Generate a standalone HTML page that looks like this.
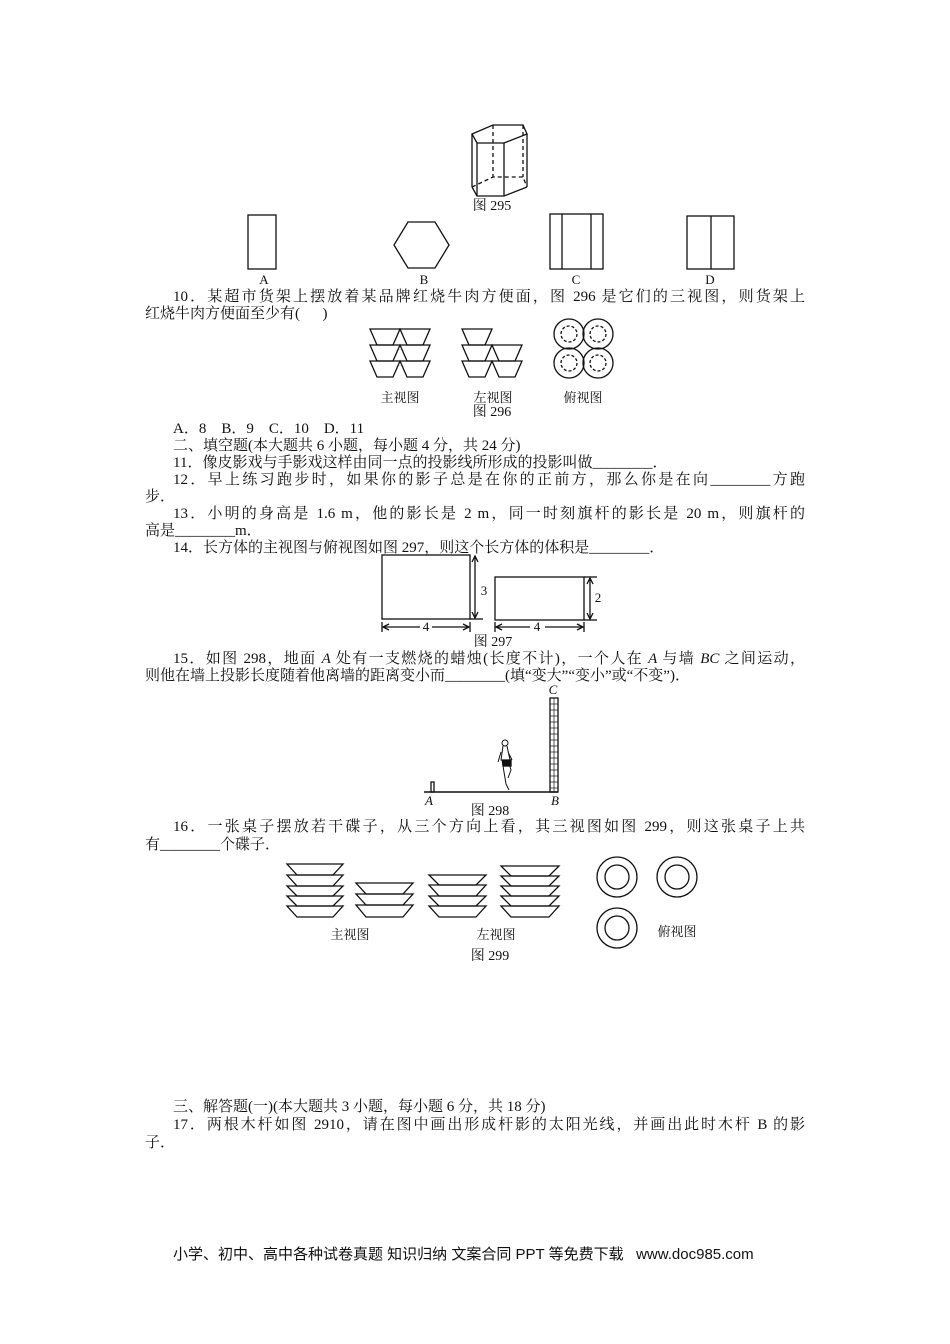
<!DOCTYPE html>
<html><head><meta charset="utf-8"><style>
body{margin:0;background:#fff;}
#p{position:relative;width:950px;height:1344px;overflow:hidden;font-family:"Liberation Serif","Noto Serif CJK SC",serif;font-size:15px;color:#111;}
.l{position:absolute;white-space:nowrap;line-height:17px;}
.j{text-align:justify;text-align-last:justify;white-space:normal;}
.c{position:absolute;white-space:nowrap;font-size:13px;transform:translateX(-50%);line-height:14px;}
svg{position:absolute;left:0;top:0;}
</style></head><body><div id="p">
<svg width="950" height="1344" fill="none" stroke="#111" stroke-width="1.3">
<polygon points="472,134 493,125 523,125 527,134 504,143 477,143"/>
<line x1="472" y1="134" x2="472" y2="187"/><line x1="477" y1="143" x2="477" y2="196"/><line x1="504" y1="143" x2="504" y2="196"/><line x1="527" y1="134" x2="527" y2="187"/>
<polyline points="472,187 477,196 504,196 527,187"/>
<g stroke-dasharray="4,3"><line x1="493" y1="125" x2="493" y2="177"/><line x1="523" y1="125" x2="523" y2="177"/><polyline points="472,187 493,177 523,177 527,187"/></g>
<rect x="248" y="215" width="28" height="54"/>
<polygon points="394,245 408,222 435,222 449,245 435,268 408,268"/>
<rect x="550" y="214" width="53" height="55"/><line x1="562" y1="214" x2="562" y2="269"/><line x1="591" y1="214" x2="591" y2="269"/>
<rect x="687" y="216" width="47" height="53"/><line x1="711" y1="216" x2="711" y2="269"/>
<polygon points="370,329 400,329 393,345 377,345"/><polygon points="400,329 430,329 423,345 407,345"/>
<polygon points="370,345 400,345 393,361 377,361"/><polygon points="400,345 430,345 423,361 407,361"/>
<polygon points="370,361 400,361 393,377 377,377"/><polygon points="400,361 430,361 423,377 407,377"/>
<polygon points="462,329 492,329 485,345 469,345"/>
<polygon points="462,345 492,345 485,361 469,361"/><polygon points="492,345 522,345 515,361 499,361"/>
<polygon points="462,361 492,361 485,377 469,377"/><polygon points="492,361 522,361 515,377 499,377"/>
<circle cx="569" cy="334" r="15"/><circle cx="598" cy="334" r="15"/><circle cx="569" cy="363" r="15"/><circle cx="598" cy="363" r="15"/>
<g stroke-dasharray="3,2"><circle cx="569" cy="334" r="8"/><circle cx="598" cy="334" r="8"/><circle cx="569" cy="363" r="8"/><circle cx="598" cy="363" r="8"/></g>
<rect x="382" y="555" width="88" height="64"/><line x1="470" y1="619" x2="483" y2="619"/>
<line x1="475" y1="556" x2="475" y2="618"/><polyline points="472,562 475,556 478,562"/><polyline points="472,612 475,618 478,612"/>
<line x1="382" y1="622" x2="382" y2="632"/><line x1="470" y1="622" x2="470" y2="632"/><line x1="383" y1="627" x2="420" y2="627"/><line x1="432" y1="627" x2="469" y2="627"/>
<polyline points="389,624 383,627 389,630"/><polyline points="463,624 469,627 463,630"/>
<rect x="495" y="577" width="89" height="43"/><line x1="584" y1="577" x2="597" y2="577"/><line x1="584" y1="620" x2="597" y2="620"/>
<line x1="590" y1="578" x2="590" y2="619"/><polyline points="587,584 590,578 593,584"/><polyline points="587,613 590,619 593,613"/>
<line x1="495" y1="622" x2="495" y2="632"/><line x1="584" y1="622" x2="584" y2="632"/><line x1="496" y1="627" x2="530" y2="627"/><line x1="545" y1="627" x2="583" y2="627"/>
<polyline points="502,624 496,627 502,630"/><polyline points="577,624 583,627 577,630"/>
<line x1="424" y1="792" x2="558" y2="792" stroke-width="1.6"/>
<rect x="550" y="698" width="8" height="94"/>
<g stroke-width="0.7"><line x1="550" y1="704" x2="558" y2="704"/><line x1="550" y1="710" x2="558" y2="710"/><line x1="550" y1="716" x2="558" y2="716"/><line x1="550" y1="722" x2="558" y2="722"/><line x1="550" y1="728" x2="558" y2="728"/><line x1="550" y1="734" x2="558" y2="734"/><line x1="550" y1="740" x2="558" y2="740"/><line x1="550" y1="746" x2="558" y2="746"/><line x1="550" y1="752" x2="558" y2="752"/><line x1="550" y1="758" x2="558" y2="758"/><line x1="550" y1="764" x2="558" y2="764"/><line x1="550" y1="770" x2="558" y2="770"/><line x1="550" y1="776" x2="558" y2="776"/><line x1="550" y1="782" x2="558" y2="782"/><line x1="550" y1="788" x2="558" y2="788"/><line x1="554" y1="698" x2="554" y2="792"/></g>
<rect x="431" y="782" width="3" height="10"/>
<g stroke-width="1"><circle cx="505" cy="743" r="3"/><path d="M503,746 L501,760 L510,760 L507,746 M501,752 L498,762 M508,752 L512,760 M502,760 L504,772 L506,784 L509,790 M508,760 L511,770 L508,778"/></g>
<rect x="503" y="760" width="8" height="6" fill="#111"/>
<!-- plates -->
<polygon points="287,864 343,864 333,875 297,875"/>
<polygon points="287,875 343,875 333,886 297,886"/>
<polygon points="287,886 343,886 333,896 297,896"/>
<polygon points="287,896 343,896 333,906 297,906"/>
<polygon points="287,906 343,906 333,917 297,917"/>
<polygon points="356,883 413,883 403,894 366,894"/>
<polygon points="356,894 413,894 403,905 366,905"/>
<polygon points="356,905 413,905 403,917 366,917"/>
<polygon points="429,875 486,875 476,885 439,885"/>
<polygon points="429,885 486,885 476,896 439,896"/>
<polygon points="429,896 486,896 476,906 439,906"/>
<polygon points="429,906 486,906 476,917 439,917"/>
<polygon points="501,866 559,866 549,876 511,876"/>
<polygon points="501,876 559,876 549,886 511,886"/>
<polygon points="501,886 559,886 549,896 511,896"/>
<polygon points="501,896 559,896 549,906 511,906"/>
<polygon points="501,906 559,906 549,917 511,917"/>
<circle cx="617" cy="877" r="20"/><circle cx="617" cy="877" r="12"/>
<circle cx="677" cy="877" r="20"/><circle cx="677" cy="877" r="12"/>
<circle cx="617" cy="928" r="20"/><circle cx="617" cy="928" r="12"/>
</svg>
<div class="c" style="left:492px;top:200px;font-size:14px">图 295</div>
<div class="c" style="left:264px;top:273px">A</div>
<div class="c" style="left:424px;top:273px">B</div>
<div class="c" style="left:576px;top:273px">C</div>
<div class="c" style="left:710px;top:273px">D</div>
<div class="l j" style="left:173px;top:289px;width:632px">10．某超市货架上摆放着某品牌红烧牛肉方便面，图 296 是它们的三视图，则货架上</div>
<div class="l" style="left:145px;top:306px">红烧牛肉方便面至少有(&nbsp;&nbsp;&nbsp;&nbsp;&nbsp;&nbsp;)</div>
<div class="c" style="left:400px;top:391px">主视图</div>
<div class="c" style="left:493px;top:391px">左视图</div>
<div class="c" style="left:583px;top:391px">俯视图</div>
<div class="c" style="left:492px;top:406px;font-size:14px">图 296</div>
<div class="l" style="left:173px;top:421px">A．8&nbsp;&nbsp;&nbsp;&nbsp;B．9&nbsp;&nbsp;&nbsp;&nbsp;C．10&nbsp;&nbsp;&nbsp;&nbsp;D．11</div>
<div class="l" style="left:173px;top:438px">二、填空题(本大题共 6 小题，每小题 4 分，共 24 分)</div>
<div class="l" style="left:173px;top:455px">11．像皮影戏与手影戏这样由同一点的投影线所形成的投影叫做________．</div>
<div class="l j" style="left:173px;top:472px;width:632px">12．早上练习跑步时，如果你的影子总是在你的正前方，那么你是在向________方跑</div>
<div class="l" style="left:145px;top:489px">步．</div>
<div class="l j" style="left:173px;top:506px;width:632px">13．小明的身高是 1.6 m，他的影长是 2 m，同一时刻旗杆的影长是 20 m，则旗杆的</div>
<div class="l" style="left:145px;top:523px">高是________m．</div>
<div class="l" style="left:173px;top:540px">14．长方体的主视图与俯视图如图 297，则这个长方体的体积是________．</div>
<div class="c" style="left:484px;top:584px">3</div>
<div class="c" style="left:598px;top:591px">2</div>
<div class="c" style="left:426px;top:620px">4</div>
<div class="c" style="left:537px;top:620px">4</div>
<div class="c" style="left:493px;top:636px;font-size:14px">图 297</div>
<div class="l j" style="left:173px;top:651px;width:632px">15．如图 298，地面 <i>A</i> 处有一支燃烧的蜡烛(长度不计)，一个人在 <i>A</i> 与墙 <i>BC</i> 之间运动，</div>
<div class="l" style="left:145px;top:668px">则他在墙上投影长度随着他离墙的距离变小而________(填“变大”“变小”或“不变”)．</div>
<div class="c" style="left:553px;top:683px;font-style:italic">C</div>
<div class="c" style="left:429px;top:794px;font-style:italic">A</div>
<div class="c" style="left:555px;top:794px;font-style:italic">B</div>
<div class="c" style="left:490px;top:805px;font-size:14px">图 298</div>
<div class="l j" style="left:173px;top:819px;width:632px">16．一张桌子摆放若干碟子，从三个方向上看，其三视图如图 299，则这张桌子上共</div>
<div class="l" style="left:145px;top:837px">有________个碟子．</div>
<div class="c" style="left:350px;top:928px">主视图</div>
<div class="c" style="left:496px;top:928px">左视图</div>
<div class="c" style="left:677px;top:925px">俯视图</div>
<div class="c" style="left:490px;top:950px;font-size:14px">图 299</div>
<div class="l" style="left:173px;top:1099px">三、解答题(一)(本大题共 3 小题，每小题 6 分，共 18 分)</div>
<div class="l j" style="left:173px;top:1117px;width:632px">17．两根木杆如图 2910，请在图中画出形成杆影的太阳光线，并画出此时木杆 B 的影</div>
<div class="l" style="left:145px;top:1135px">子．</div>
<div class="l" style="left:173px;top:1246px;font-family:'Liberation Sans','Noto Sans CJK SC',sans-serif;font-size:15px">小学、初中、高中各种试卷真题 知识归纳 文案合同 PPT 等免费下载&nbsp;&nbsp;&nbsp;www.doc985.com</div>
</div></body></html>
